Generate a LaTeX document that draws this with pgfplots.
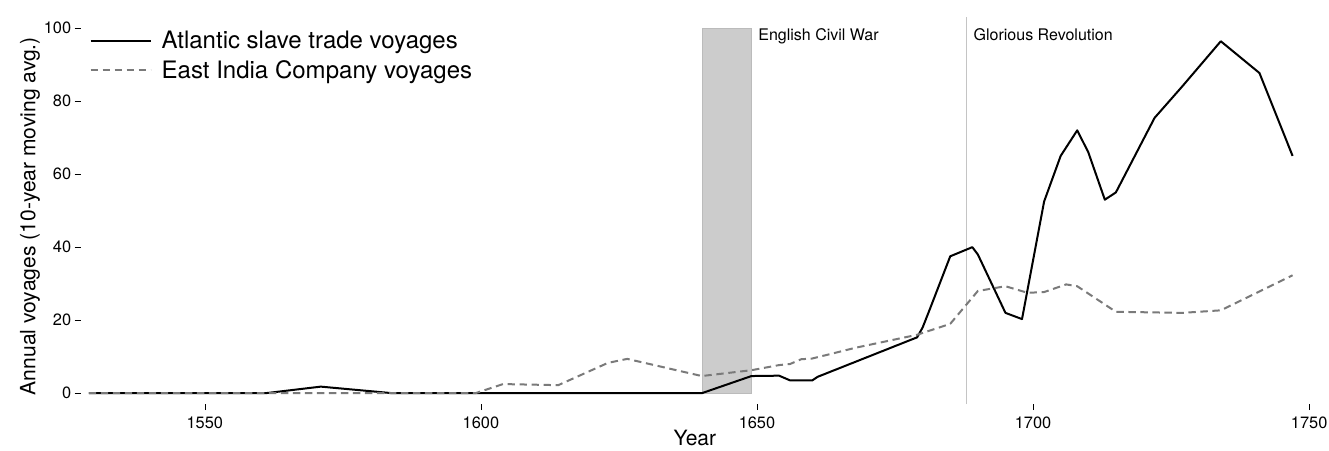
\documentclass[border=0pt]{standalone}
\usepackage{fontspec}
\setmainfont{TeX Gyre Heros}
\usepackage{pgfplots}
\usepackage{pgfplotstable}
\pgfplotsset{compat=1.18}

\definecolor{eicgray}{HTML}{7A7A7A}
\definecolor{warfill}{HTML}{CCCCCC}
\definecolor{waredge}{HTML}{BBBBBB}
\definecolor{revline}{HTML}{C4C4C4}

% Atlantic slave trade voyages, 10-year moving average
\pgfplotstableread{
year val
1529 0
1561 0
1571 1.8
1584 0
1640 0
1649 4.7
1654 4.8
1656 3.5
1660 3.5
1661 4.5
1679 15.3
1680 18
1681.3 23
1685 37.5
1689 40
1690 38
1695 22
1698 20.3
1702 52.5
1705 65
1708 72
1710 66
1713 53
1715 55
1722 75.4
1727 84
1734 96.4
1741 87.7
1747 65
}\atlantic

% East India Company voyages, 10-year moving average
\pgfplotstableread{
year val
1529 0
1599 0
1604 2.5
1614 2.2
1623 8.3
1626.5 9.4
1640 4.7
1649 6.3
1654 7.7
1656 8
1658 9.3
1660 9.5
1668 12.5
1679 16
1685 19
1690 28
1695 29.3
1699 27.5
1702 27.7
1706 29.8
1708 29.3
1715 22.3
1727 22
1734 22.7
1747 32.3
}\eic

\begin{document}
\begin{tikzpicture}
\begin{axis}[
    x=4.14pt, y=2.7375pt,
    xmin=1527.5, xmax=1750,
    ymin=-3, ymax=100,
    clip=false,
    axis line style={draw=none},
    xtick={1550,1600,1650,1700,1750},
    ytick={0,20,40,60,80,100},
    tick align=outside,
    major tick length=4.5pt,
    tick style={black, line width=0.5pt},
    xtick pos=bottom, ytick pos=left,
    xticklabel style={font=\fontsize{12.3}{14}\selectfont, yshift=-1.5pt},
    yticklabel style={font=\fontsize{12.3}{14}\selectfont, xshift=1pt},
    /pgf/number format/assume math mode=true,
    /pgf/number format/1000 sep={},
    xlabel={Year},
    ylabel={Annual voyages (10-year moving avg.)},
    xlabel style={font=\fontsize{15.8}{18}\selectfont, yshift=5.5pt},
    ylabel style={font=\fontsize{15.8}{18}\selectfont, yshift=-4pt},
    legend style={at={(axis cs:1529.1,99.9)}, anchor=north west, draw=none, fill=none,
        font=\fontsize{18}{21}\selectfont, row sep=3pt, inner sep=0pt},
    legend cell align=left,
    legend image code/.code={\draw[#1] (0pt,0pt) -- (45pt,0pt); \path (50.5pt,0pt);},
]
\fill[warfill] (axis cs:1640,0) rectangle (axis cs:1649,100);
\draw[waredge, line width=0.4pt] (axis cs:1640,0) rectangle (axis cs:1649,100);
\draw[revline, line width=0.8pt] (axis cs:1688,-3) -- (axis cs:1688,103);
\node[anchor=north west, inner sep=0pt, font=\fontsize{12}{14}\selectfont]
    at (axis cs:1650.2,100) {English Civil War};
\node[anchor=north west, inner sep=0pt, font=\fontsize{12}{14}\selectfont]
    at (axis cs:1689.2,100) {Glorious Revolution};
\coordinate (bbsw) at (axis cs:1512.9,-15.6);
\coordinate (bbne) at (axis cs:1753.6,107.7);

\addplot[black, line width=1.5pt, line join=round] table[x=year, y=val] {\atlantic};
\addlegendentry{Atlantic slave trade voyages}
\addplot[eicgray, line width=1.5pt, dash pattern=on 5.5pt off 3.5pt] table[x=year, y=val] {\eic};
\addlegendentry{East India Company voyages}
\end{axis}
\pgfresetboundingbox
\path[use as bounding box] (bbsw) rectangle (bbne);
\end{tikzpicture}
\end{document}
